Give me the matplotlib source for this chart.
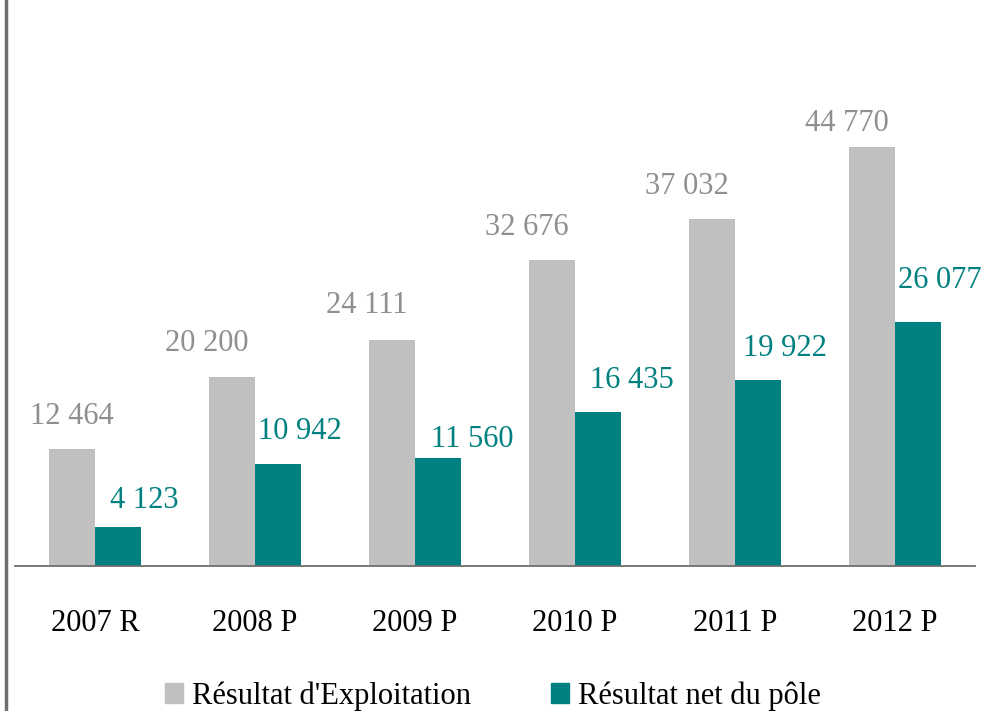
import matplotlib.pyplot as plt
from matplotlib.lines import Line2D
from matplotlib.patches import Patch
import numpy as np

plt.rcParams['font.family'] = ['Liberation Serif', 'DejaVu Serif']

years = ['2007 R', '2008 P', '2009 P', '2010 P', '2011 P', '2012 P']
exploitation = [12464, 20200, 24111, 32676, 37032, 44770]
net_pole = [4123, 10942, 11560, 16435, 19922, 26077]
labels_expl = ['12 464', '20 200', '24 111', '32 676', '37 032', '44 770']
labels_net = ['4 123', '10 942', '11 560', '16 435', '19 922', '26 077']

# label nudges in pixels (hand placed in the original)
expl_dx = [0, -25, -25, -25, -25, -25]
expl_dy = [33, 33, 35, 33, 33, 23]
net_dx = [26, 22, 34, 34, 27, 22]
net_dy = [27, 32, 18, 32, 31, 41]

gray = '#C0C0C0'
teal = '#008080'

fig = plt.figure(figsize=(9.85, 7.11), dpi=100)
ax = fig.add_axes([15 / 985, 145 / 711, 960 / 985, 566 / 711])

x = np.arange(len(years))
w = 0.29
ax.bar(x - w / 2, exploitation, w, color=gray, label="Résultat d'Exploitation")
ax.bar(x + w / 2, net_pole, w, color=teal, label='Résultat net du pôle')

px = 72 / 100  # pixels to points
for i in range(len(years)):
    ax.annotate(labels_expl[i], (x[i] - w / 2, exploitation[i]),
                xytext=(expl_dx[i] * px, expl_dy[i] * px), textcoords='offset points',
                ha='center', va='center', fontsize=22, color='#8F8F8F')
    ax.annotate(labels_net[i], (x[i] + w / 2, net_pole[i]),
                xytext=(net_dx[i] * px, net_dy[i] * px), textcoords='offset points',
                ha='center', va='center', fontsize=22, color=teal)

ax.set_xlim(-0.5, 5.5)
ax.set_ylim(0, 60476)
for s in ['top', 'right', 'left']:
    ax.spines[s].set_visible(False)
ax.spines['bottom'].set_color('#6E6E6E')
ax.spines['bottom'].set_linewidth(1.3)
ax.set_yticks([])
ax.set_xticks(x)
ax.set_xticklabels(years, fontsize=22)
ax.tick_params(axis='x', length=0, pad=31)

handles = [Patch(color=gray), Patch(color=teal)]
fig.legend(handles, ["Résultat d'Exploitation", 'Résultat net du pôle'],
           loc='center', bbox_to_anchor=(493 / 985, 1 - 696 / 711), ncol=2, frameon=False,
           fontsize=22, handlelength=0.6, handleheight=0.6, handletextpad=0.3,
           columnspacing=2.6, borderaxespad=0)

fig.add_artist(Line2D([5.5 / 985, 5.5 / 985], [0, 1], color='#6E6E6E', lw=2.5))

fig.savefig('out.png', dpi=100)
